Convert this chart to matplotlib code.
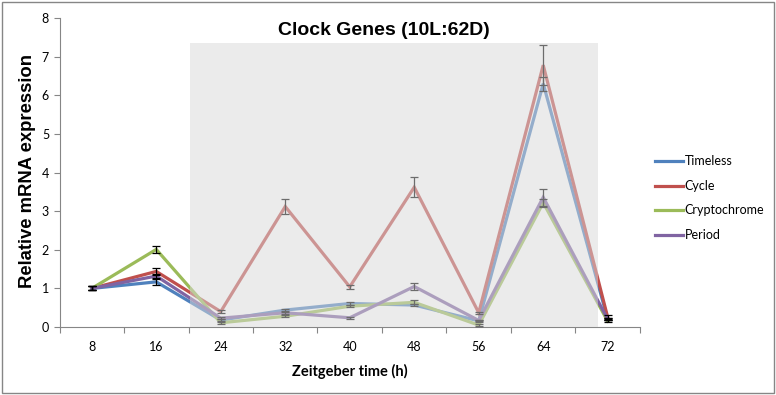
import numpy as np
import matplotlib
matplotlib.use("Agg")
import matplotlib.pyplot as plt
from matplotlib.patches import Rectangle

# data
zt = ["8", "16", "24", "32", "40", "48", "56", "64", "72"]
timeless = [1.0, 1.17, 0.18, 0.44, 0.61, 0.57, 0.16, 6.3, 0.2]
cycle = [1.0, 1.44, 0.40, 3.12, 1.04, 3.62, 0.37, 6.78, 0.25]
cryptochrome = [1.0, 2.01, 0.11, 0.28, 0.54, 0.64, 0.05, 3.22, 0.15]
period = [1.0, 1.32, 0.23, 0.37, 0.24, 1.05, 0.17, 3.36, 0.2]

timeless_err = [0.05, 0.07, 0.03, 0.03, 0.03, 0.03, 0.02, 0.18, 0.03]
cycle_err = [0.05, 0.09, 0.03, 0.2, 0.05, 0.26, 0.03, 0.52, 0.05]
crypto_err = [0.05, 0.1, 0.02, 0.02, 0.03, 0.05, 0.02, 0.1, 0.03]
period_err = [0.05, 0.05, 0.03, 0.03, 0.02, 0.08, 0.02, 0.22, 0.03]

names = ["Timeless", "Cycle", "Cryptochrome", "Period"]
colors = ["#4F81BD", "#C0504D", "#9BBB59", "#8064A2"]

fig = plt.figure(figsize=(7.76, 3.95), dpi=100)
ax = fig.add_axes([0.0767, 0.172, 0.748, 0.7824])

x = np.arange(len(zt))
series = [timeless, cycle, cryptochrome, period]
errs = [timeless_err, cycle_err, crypto_err, period_err]
for vals, err, c, n in zip(series, errs, colors, names):
    ax.plot(x, vals, color=c, lw=2.3, label=n, zorder=3, solid_joinstyle="miter")
    ax.errorbar(x, vals, yerr=err, fmt="none", ecolor="black", elinewidth=0.9,
                capsize=3, capthick=0.9, zorder=4)

# dark-phase shading drawn over the lines
ax.add_patch(Rectangle((1.52, 0), 6.325, 7.36, facecolor="#d9d9d9", alpha=0.5,
                       edgecolor="none", zorder=5))

ax.set_xlim(-0.5, 8.5)
ax.set_ylim(0, 8)
ax.set_yticks(range(0, 9))
ax.set_xticks(np.arange(-0.5, 9, 1))
ax.set_xticklabels([])
ax.set_xticks(x, minor=True)
ax.set_xticklabels(zt, minor=True)
ax.tick_params(axis="x", which="minor", length=0, pad=10, labelsize=9)
ax.tick_params(axis="x", which="major", length=4, color="#868686")
ax.tick_params(axis="y", length=4, color="#868686", labelsize=9)
for lbl in ax.get_xticklabels(minor=True) + ax.get_yticklabels():
    lbl.set_family("Lato")

for s in ["top", "right"]:
    ax.spines[s].set_visible(False)
for s in ["left", "bottom"]:
    ax.spines[s].set_color("#868686")

fig.text(0.495, 0.924, "Clock Genes (10L:62D)", fontsize=14, fontweight="bold",
         family="Liberation Sans", ha="center", va="center")
ax.set_ylabel("Relative mRNA expression", fontsize=13.3, fontweight="bold",
              family="Liberation Sans")
ax.yaxis.set_label_coords(-0.041, 0.505)
ax.set_xlabel("Zeitgeber time (h)", fontsize=10.5, fontweight="bold",
              family="Lato", labelpad=8)

ax.legend(loc="center left", bbox_to_anchor=(1.007, 0.417), frameon=False,
          handlelength=2.2, handletextpad=0.15, labelspacing=1.0,
          prop={"family": "Lato", "size": 9})

# outer chart border
fig.patches.append(Rectangle((0.003, 0.004), 0.994, 0.99, transform=fig.transFigure,
                             fill=False, edgecolor="#868686", lw=1.0))

fig.savefig("out.png", dpi=100)
